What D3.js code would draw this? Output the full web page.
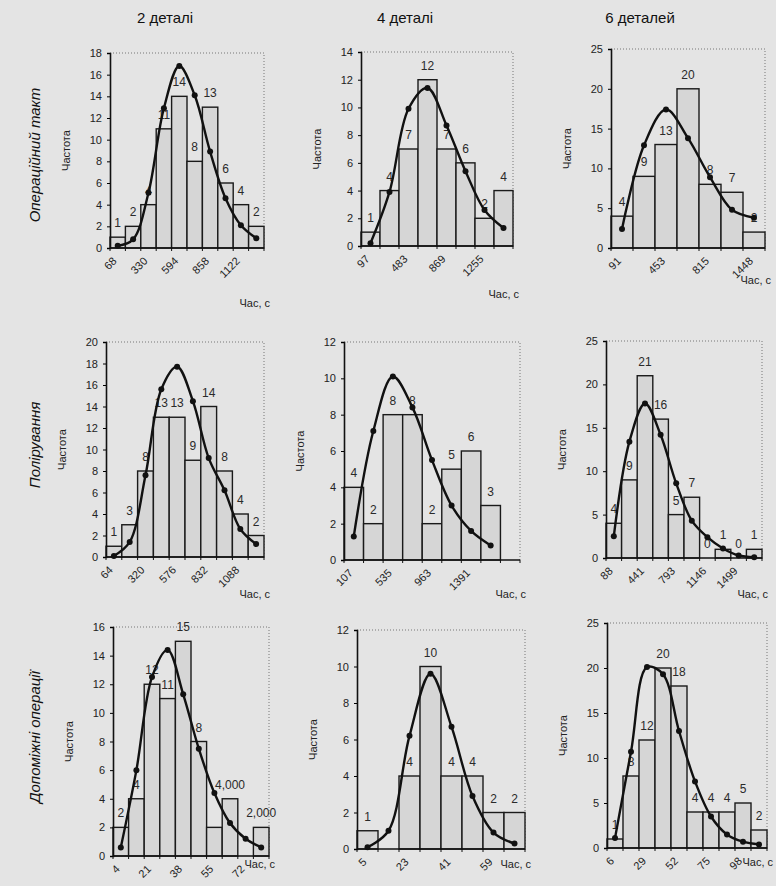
<!DOCTYPE html>
<html>
<head>
<meta charset="utf-8">
<title>Гістограми тривалості операцій</title>
<script src="https://d3js.org/d3.v7.min.js"></script>
<style>
body { margin: 0; background: #e4e4e4; }
svg text { font-family: Arial, "Liberation Sans", sans-serif; -webkit-font-smoothing: antialiased; }
</style>
</head>
<body>
<svg id="chart" width="776" height="886"></svg>
<script>
var colTitles = ["2 деталі", "4 деталі", "6 деталей"];
var rowTitles = ["Операційний такт", "Полірування", "Допоміжні операції"];

// Операційний такт
var takt2Bins = ["68","200","330","462","594","726","858","990","1122","1254"];
var takt2Freq = [1,2,4,11,14,8,13,6,4,2];
var takt2Fit  = [0.2,0.8,5.1,12.9,16.8,14.1,8.9,4.6,2.1,0.9];
var takt2Lab  = ["1","2","4","11","14","8","13","6","4","2"];

var takt4Bins = ["97","290","483","676","869","1062","1255","1448"];
var takt4Freq = [1,4,7,12,7,6,2,4];
var takt4Fit  = [0.2,3.9,9.9,11.4,8.7,5.4,2.6,1.3];
var takt4Lab  = ["1","4","7","12","7","6","2","4"];

var takt6Bins = ["91","272","453","634","815","996","1448"];
var takt6Freq = [4,9,13,20,8,7,2];
var takt6Fit  = [2.4,12.9,17.4,13.8,8.9,4.8,3.8];
var takt6Lab  = ["4","9","13","20","8","7","2"];

// Полірування
var pol2Bins = ["64","192","320","448","576","704","832","960","1088","1216"];
var pol2Freq = [1,3,8,13,13,9,14,8,4,2];
var pol2Fit  = [0.1,1.4,7.6,15.6,17.7,14.5,9.2,6.2,2.6,1.2];
var pol2Lab  = ["1","3","8","13","13","9","14","8","4","2"];

var pol4Bins = ["107","321","535","749","963","1177","1391","1605",""];
var pol4Freq = [4,2,8,8,2,5,6,3,0];
var pol4Fit  = [1.3,7.1,10.1,8.4,5.5,3.0,1.6,0.8,null];
var pol4Lab  = ["4","2","8","8","2","5","6","3",""];

var pol6Bins = ["88","264","441","617","793","970","1146","1322","1499","1675"];
var pol6Freq = [4,9,21,16,5,7,0,1,0,1];
var pol6Fit  = [2.5,13.4,17.8,14.2,8.6,4.3,2.4,1.1,0.3,0.1];
var pol6Lab  = ["4","9","21","16","5","7","0","1","0","1"];

// Допоміжні операції
var aux2Bins = ["4","13","21","30","38","47","55","64","72","81"];
var aux2Freq = [2,4,12,11,15,8,2,4,0,2];
var aux2Fit  = [0.6,6.0,12.5,14.4,11.3,7.5,4.4,2.3,1.2,0.6];
var aux2Lab  = ["2","4","12","11","15","8","","4,000","","2,000"];

var aux4Bins = ["5","14","23","32","41","50","59","68"];
var aux4Freq = [1,0,4,10,4,4,2,2];
var aux4Fit  = [0.1,1.0,6.2,9.6,6.7,2.9,0.9,0.3];
var aux4Lab  = ["1","","4","10","4","4","2","2"];

var aux6Bins = ["6","18","29","41","52","64","75","87","98","110"];
var aux6Freq = [1,8,12,20,18,4,4,4,5,2];
var aux6Fit  = [1.1,10.7,20.1,19.3,13.0,7.4,3.5,1.5,0.7,0.4];
var aux6Lab  = ["1","8","12","20","18","4","4","4","5","2"];

var yMaxes = [18,14,25, 20,12,25, 16,12,25];
var ySteps = [2,2,5, 2,2,5, 2,2,5];

// plot areas (pixels)
var layout = [
  {x0:110, x1:264, top:53,  y0:248, titleY:307},
  {x0:361, x1:513, top:52,  y0:246, titleY:298},
  {x0:611, x1:765, top:49,  y0:248, titleY:284},
  {x0:106, x1:264, top:342, y0:557, titleY:598},
  {x0:344, x1:520, top:342, y0:560, titleY:598},
  {x0:606, x1:762, top:341, y0:558, titleY:598},
  {x0:113, x1:269, top:627, y0:856, titleY:868},
  {x0:357, x1:525, top:630, y0:849, titleY:868},
  {x0:607, x1:767, top:623, y0:848, titleY:866}
];

var panels = [
  [takt2Bins, takt2Freq, takt2Fit, takt2Lab],
  [takt4Bins, takt4Freq, takt4Fit, takt4Lab],
  [takt6Bins, takt6Freq, takt6Fit, takt6Lab],
  [pol2Bins, pol2Freq, pol2Fit, pol2Lab],
  [pol4Bins, pol4Freq, pol4Fit, pol4Lab],
  [pol6Bins, pol6Freq, pol6Fit, pol6Lab],
  [aux2Bins, aux2Freq, aux2Fit, aux2Lab],
  [aux4Bins, aux4Freq, aux4Fit, aux4Lab],
  [aux6Bins, aux6Freq, aux6Fit, aux6Lab]
];

var svg = d3.select("#chart");

// column titles
var colX = [165, 405, 640];
svg.selectAll(".coltitle").data(colTitles).enter().append("text")
  .attr("class", "coltitle")
  .attr("x", function (d, i) { return colX[i]; })
  .attr("y", 23)
  .attr("text-anchor", "middle")
  .style("font-size", "15px")
  .style("fill", "#111")
  .text(function (d) { return d; });

// row titles
var rowY = [155, 445, 737];
svg.selectAll(".rowtitle").data(rowTitles).enter().append("text")
  .attr("class", "rowtitle")
  .attr("transform", function (d, i) { return "translate(40," + rowY[i] + ") rotate(-90)"; })
  .attr("text-anchor", "middle")
  .style("font-size", "15px")
  .style("font-style", "italic")
  .style("fill", "#111")
  .text(function (d) { return d; });

panels.forEach(function (p, k) {
  var bins = p[0], freq = p[1], fit = p[2], lab = p[3];
  var L = layout[k];
  var g = svg.append("g");

  var x = d3.scaleBand().domain(d3.range(bins.length)).range([L.x0, L.x1]).padding(0);
  var y = d3.scaleLinear().domain([0, yMaxes[k]]).range([L.y0, L.top]);

  // dotted plot-area border (top, right)
  g.append("path")
    .attr("d", "M" + L.x0 + "," + L.top + "H" + L.x1 + "V" + L.y0)
    .attr("fill", "none")
    .attr("stroke", "#777")
    .attr("stroke-width", 1)
    .attr("stroke-dasharray", "1,2");

  // bars
  g.selectAll(".bar").data(freq).enter().append("rect")
    .attr("class", "bar")
    .attr("x", function (d, i) { return x(i); })
    .attr("y", function (d) { return y(d); })
    .attr("width", x.bandwidth())
    .attr("height", function (d) { return L.y0 - y(d); })
    .attr("fill", "#d6d6d6")
    .attr("stroke", "#1a1a1a")
    .attr("stroke-width", 1.4);

  // data labels
  g.selectAll(".lab").data(freq).enter().append("text")
    .attr("x", function (d, i) { return x(i) + x.bandwidth() / 2; })
    .attr("y", function (d) { return y(d) - 10; })
    .attr("text-anchor", "middle")
    .style("font-size", "12px")
    .style("fill", "#2a2a2a")
    .text(function (d, i) { return lab[i]; });

  // y axis
  var ticks = d3.range(0, yMaxes[k] + 0.001, ySteps[k]);
  var ya = g.append("g")
    .attr("transform", "translate(" + L.x0 + ",0)")
    .call(d3.axisLeft(y).tickValues(ticks).tickSize(3).tickPadding(5));
  ya.select(".domain").attr("stroke", "#111").attr("stroke-width", 1.6);
  ya.selectAll("text").style("font-size", "11px").style("fill", "#222")
    .style("font-family", "Arial, 'Liberation Sans', sans-serif");

  // x axis
  g.append("line")
    .attr("x1", L.x0).attr("x2", L.x1).attr("y1", L.y0).attr("y2", L.y0)
    .attr("stroke", "#111").attr("stroke-width", 1.6);
  g.selectAll(".xt").data(d3.range(bins.length + 1)).enter().append("line")
    .attr("x1", function (i) { return L.x0 + i * x.step(); })
    .attr("x2", function (i) { return L.x0 + i * x.step(); })
    .attr("y1", L.y0).attr("y2", L.y0 + 3)
    .attr("stroke", "#111");

  // x tick labels (every other category)
  g.selectAll(".xl").data(bins).enter().append("text")
    .filter(function (d, i) { return i % 2 === 0; })
    .attr("transform", function (d) {
      var i = bins.indexOf(d);
      return "translate(" + (x(i) + x.bandwidth() / 2 - 3) + "," + (L.y0 + 11) + ") rotate(-45)";
    })
    .attr("text-anchor", "end")
    .attr("dy", "0.35em")
    .style("font-size", "11px")
    .style("fill", "#222")
    .text(function (d) { return d; });

  // axis titles
  g.append("text")
    .attr("transform", "translate(" + (L.x0 - 40) + "," + ((L.top + L.y0) / 2) + ") rotate(-90)")
    .attr("text-anchor", "middle")
    .style("font-size", "11px")
    .style("fill", "#222")
    .text("Частота");

  g.append("text")
    .attr("x", L.x1 + 6)
    .attr("y", L.titleY)
    .attr("text-anchor", "end")
    .style("font-size", "11px")
    .style("fill", "#222")
    .text("Час, с");

  // fitted curve
  var pts = fit.map(function (v, i) { return {i: i, v: v}; }).filter(function (d) { return d.v !== null; });
  var line = d3.line()
    .x(function (d) { return x(d.i) + x.bandwidth() / 2; })
    .y(function (d) { return y(d.v); })
    .curve(d3.curveCatmullRom);
  g.append("path")
    .datum(pts)
    .attr("d", line)
    .attr("fill", "none")
    .attr("stroke", "#111")
    .attr("stroke-width", 2.4);
  g.selectAll(".dot").data(pts).enter().append("circle")
    .attr("cx", function (d) { return x(d.i) + x.bandwidth() / 2; })
    .attr("cy", function (d) { return y(d.v); })
    .attr("r", 3)
    .attr("fill", "#111");
});
</script>
</body>
</html>
